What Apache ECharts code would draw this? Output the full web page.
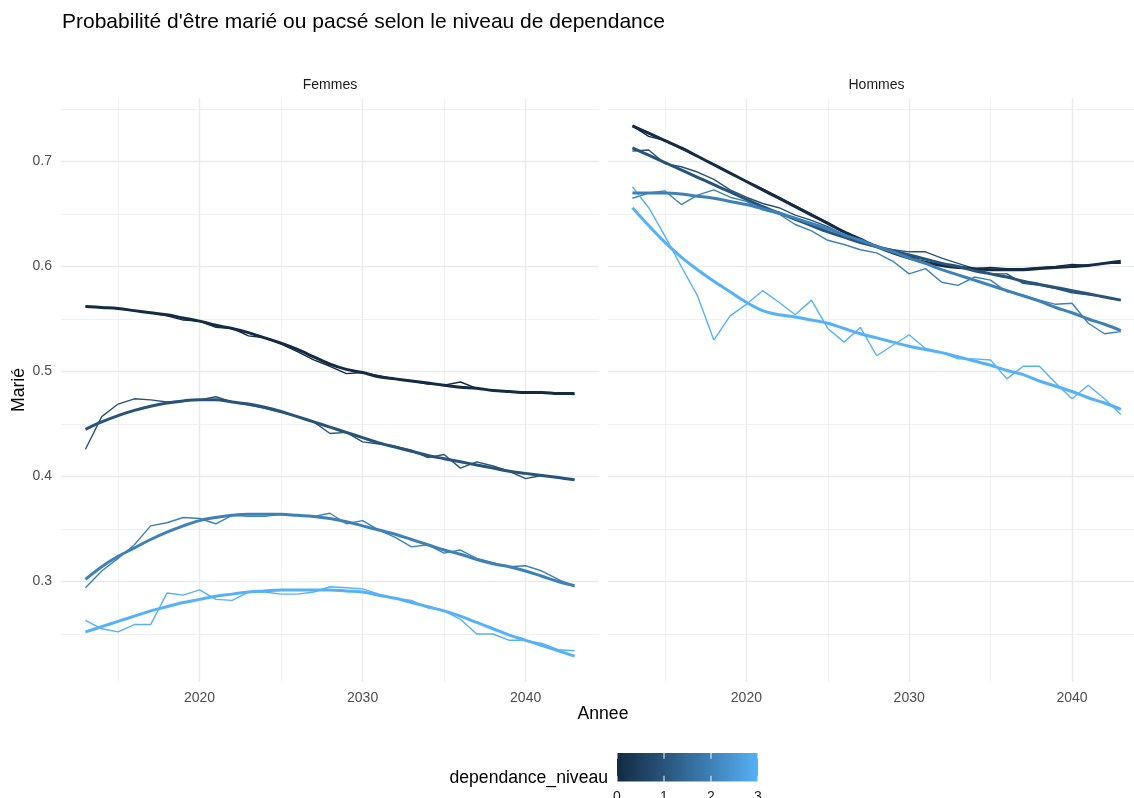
<!DOCTYPE html>
<html><head><meta charset="utf-8">
<script src="https://cdn.jsdelivr.net/npm/echarts@6/dist/echarts.min.js"></script>
<style>html,body{margin:0;padding:0;background:#fff}#c{width:1134px;height:798px}</style>
</head><body><div id="c"></div>
<script>
// ---------------- DATA ----------------
const years = [2013,2014,2015,2016,2017,2018,2019,2020,2021,2022,2023,2024,2025,2026,2027,2028,2029,2030,2031,2032,2033,2034,2035,2036,2037,2038,2039,2040,2041,2042,2043];
const panels = ['Femmes', 'Hommes'];
const levels = [0, 1, 2, 3];

// Femmes - observed
const femmesRaw0 = [0.562,0.561,0.560,0.558,0.556,0.553,0.549,0.548,0.542,0.541,0.534,0.532,0.526,0.519,0.511,0.505,0.498,0.499,0.496,0.493,0.491,0.488,0.487,0.490,0.484,0.482,0.481,0.480,0.480,0.479,0.478];
const femmesRaw1 = [0.426,0.457,0.469,0.474,0.473,0.471,0.472,0.473,0.476,0.471,0.468,0.465,0.461,0.457,0.452,0.441,0.442,0.433,0.431,0.429,0.425,0.418,0.421,0.408,0.414,0.410,0.405,0.398,0.401,0.399,0.397];
const femmesRaw2 = [0.294,0.310,0.322,0.335,0.353,0.356,0.361,0.360,0.355,0.363,0.362,0.362,0.364,0.363,0.362,0.365,0.355,0.358,0.349,0.342,0.333,0.335,0.327,0.330,0.322,0.318,0.314,0.315,0.310,0.302,0.295];
const femmesRaw3 = [0.263,0.255,0.252,0.259,0.259,0.289,0.287,0.292,0.283,0.282,0.290,0.290,0.288,0.288,0.290,0.295,0.294,0.293,0.288,0.284,0.282,0.275,0.272,0.264,0.250,0.250,0.244,0.244,0.241,0.235,0.234];
// Femmes - smoothed
const femmesSmooth0 = [0.562,0.561,0.560,0.558,0.556,0.554,0.551,0.548,0.544,0.541,0.537,0.532,0.527,0.521,0.514,0.507,0.502,0.499,0.495,0.493,0.491,0.489,0.487,0.485,0.484,0.482,0.481,0.480,0.480,0.479,0.479];
const femmesSmooth1 = [0.445,0.452,0.458,0.463,0.467,0.470,0.472,0.473,0.473,0.471,0.469,0.466,0.462,0.457,0.452,0.447,0.442,0.437,0.432,0.428,0.424,0.420,0.417,0.414,0.411,0.408,0.405,0.403,0.401,0.399,0.397];
const femmesSmooth2 = [0.302,0.314,0.324,0.332,0.340,0.347,0.353,0.358,0.361,0.363,0.364,0.364,0.364,0.363,0.362,0.360,0.357,0.353,0.349,0.345,0.340,0.335,0.330,0.326,0.321,0.317,0.314,0.310,0.305,0.300,0.296];
const femmesSmooth3 = [0.252,0.257,0.262,0.267,0.272,0.276,0.280,0.283,0.286,0.288,0.290,0.291,0.292,0.292,0.292,0.292,0.291,0.290,0.287,0.284,0.280,0.276,0.272,0.267,0.261,0.255,0.249,0.244,0.239,0.234,0.229];

// Hommes - observed
const hommesRaw0 = [0.734,0.724,0.720,0.712,0.705,0.697,0.689,0.681,0.674,0.666,0.658,0.650,0.642,0.633,0.624,0.620,0.613,0.609,0.607,0.603,0.600,0.598,0.599,0.598,0.598,0.599,0.600,0.602,0.601,0.603,0.603];
const hommesRaw1 = [0.710,0.711,0.698,0.695,0.690,0.683,0.673,0.666,0.660,0.656,0.649,0.644,0.638,0.630,0.622,0.619,0.616,0.614,0.614,0.608,0.603,0.598,0.593,0.593,0.584,0.582,0.579,0.575,0.573,0.571,0.568];
const hommesRaw2 = [0.665,0.670,0.672,0.659,0.668,0.673,0.666,0.662,0.654,0.650,0.640,0.634,0.625,0.621,0.616,0.613,0.605,0.593,0.598,0.585,0.582,0.590,0.587,0.576,0.573,0.568,0.564,0.565,0.546,0.536,0.538];
const hommesRaw3 = [0.676,0.656,0.629,0.600,0.572,0.530,0.553,0.564,0.577,0.566,0.554,0.568,0.541,0.528,0.542,0.515,0.525,0.535,0.522,0.518,0.512,0.512,0.511,0.493,0.505,0.505,0.489,0.474,0.487,0.474,0.459];
// Hommes - smoothed
const hommesSmooth0 = [0.734,0.727,0.720,0.713,0.705,0.697,0.689,0.681,0.673,0.665,0.657,0.649,0.641,0.633,0.626,0.619,0.613,0.608,0.604,0.601,0.599,0.598,0.597,0.597,0.597,0.598,0.599,0.600,0.601,0.603,0.605];
const hommesSmooth1 = [0.713,0.706,0.699,0.692,0.685,0.678,0.671,0.664,0.657,0.651,0.645,0.639,0.633,0.628,0.623,0.619,0.615,0.611,0.607,0.603,0.600,0.596,0.593,0.590,0.586,0.583,0.580,0.577,0.574,0.571,0.568];
const hommesSmooth2 = [0.670,0.670,0.670,0.669,0.667,0.665,0.662,0.659,0.655,0.651,0.646,0.641,0.636,0.630,0.625,0.619,0.614,0.608,0.603,0.597,0.592,0.587,0.582,0.577,0.572,0.567,0.561,0.556,0.550,0.545,0.539];
const hommesSmooth3 = [0.656,0.639,0.623,0.609,0.597,0.586,0.576,0.566,0.558,0.554,0.552,0.549,0.546,0.541,0.536,0.532,0.528,0.524,0.521,0.518,0.514,0.510,0.506,0.501,0.497,0.491,0.486,0.481,0.475,0.470,0.464];

// ticks
const xMajorTicks = [2020, 2030, 2040];
const xMinorTicks = [2015, 2025, 2035];
const yMajorTicks = [0.3, 0.4, 0.5, 0.6, 0.7];
const yMinorTicks = [0.25, 0.35, 0.45, 0.55, 0.65, 0.75];
const legendTicks = [0, 1, 2, 3];

// ---------------- STYLE ----------------
const FONT = '"Liberation Sans", Arial, Helvetica, sans-serif';
const levelColors = ['#132B43', '#28547A', '#3E81B7', '#56B1F7'];
const rawSets = [[femmesRaw0, femmesRaw1, femmesRaw2, femmesRaw3], [hommesRaw0, hommesRaw1, hommesRaw2, hommesRaw3]];
const smoothSets = [[femmesSmooth0, femmesSmooth1, femmesSmooth2, femmesSmooth3], [hommesSmooth0, hommesSmooth1, hommesSmooth2, hommesSmooth3]];

// The Hommes panel of the original runs past the right edge of the picture:
// its visible part spans 2011.5 .. ~2043.8 over the 526 px left in the page.
const xRanges = [[2011.5, 2044.5], [2011.5, 2043.81]];
const Y_MIN = 0.2043, Y_MAX = 0.7605;
const gridTop = 98, gridH = 584;
const grids = [
  { left: 61, top: gridTop, width: 538, height: gridH },
  { left: 608, top: gridTop, width: 526, height: gridH }
];

function xAxisDef(g, ticks, major) {
  return {
    type: 'value', gridIndex: g, min: xRanges[g][0], max: xRanges[g][1], position: 'bottom',
    axisLine: { show: false },
    axisTick: { show: false, customValues: ticks },
    axisLabel: { show: major, customValues: ticks, formatter: v => String(v), color: '#4D4D4D', fontSize: 14, margin: 9, fontFamily: FONT },
    splitLine: { show: true, customValues: ticks, lineStyle: { color: '#EBEBEB', width: major ? 1.4 : 0.7 } }
  };
}
function yAxisDef(g, ticks, major, labels) {
  return {
    type: 'value', gridIndex: g, min: Y_MIN, max: Y_MAX, position: 'left',
    axisLine: { show: false },
    axisTick: { show: false, customValues: ticks },
    axisLabel: { show: labels, customValues: ticks, formatter: v => v.toFixed(1), color: '#4D4D4D', fontSize: 14, margin: 9, fontFamily: FONT },
    splitLine: { show: true, customValues: ticks, lineStyle: { color: '#EBEBEB', width: major ? 1.4 : 0.7 } }
  };
}

const xAxes = [], yAxes = [];
panels.forEach((p, g) => {
  xAxes.push(xAxisDef(g, xMajorTicks, true));
  xAxes.push(xAxisDef(g, xMinorTicks, false));
  yAxes.push(yAxisDef(g, yMajorTicks, true, g === 0));
  yAxes.push(yAxisDef(g, yMinorTicks, false, false));
});

const series = [];
panels.forEach((p, g) => {
  levels.forEach(l => {
    series.push({
      type: 'line', name: p + ' ' + l, xAxisIndex: g * 2, yAxisIndex: g * 2,
      data: years.map((y, i) => [y, rawSets[g][l][i]]),
      showSymbol: false, symbol: 'none', silent: true, z: 2,
      lineStyle: { color: levelColors[l], width: 1.4 }
    });
  });
  levels.forEach(l => {
    series.push({
      type: 'line', name: p + ' lissé ' + l, xAxisIndex: g * 2, yAxisIndex: g * 2,
      data: years.map((y, i) => [y, smoothSets[g][l][i]]),
      showSymbol: false, symbol: 'none', silent: true, smooth: 0.35, z: 3,
      lineStyle: { color: levelColors[l], width: 3 }
    });
  });
});

// colour bar legend (decoration)
const barX = 617, barY = 753, barW = 141, barH = 28.5;
const legendMax = legendTicks[legendTicks.length - 1];
const stripCenters = [330, 876.5];
const graphic = [];
panels.forEach((p, g) => {
  graphic.push({ type: 'text', x: stripCenters[g], y: 85,
    style: { text: p, align: 'center', verticalAlign: 'middle', fontSize: 14, fill: '#1A1A1A', fontFamily: FONT } });
});
graphic.push({ type: 'text', x: 603, y: 714, style: { text: 'Annee', align: 'center', verticalAlign: 'middle', fontSize: 17.6, fill: '#000', fontFamily: FONT } });
graphic.push({ type: 'text', x: 19, y: 390, rotation: Math.PI / 2, style: { text: 'Marié', align: 'center', verticalAlign: 'middle', fontSize: 17.6, fill: '#000', fontFamily: FONT } });
graphic.push({ type: 'text', x: 608, y: 778, style: { text: 'dependance_niveau', align: 'right', verticalAlign: 'middle', fontSize: 17.6, fill: '#000', fontFamily: FONT } });
graphic.push({ type: 'rect', shape: { x: barX, y: barY, width: barW, height: barH },
  style: { fill: new echarts.graphic.LinearGradient(0, 0, 1, 0, levelColors.map((c, i) => ({ offset: i / (levelColors.length - 1), color: c }))) } });
legendTicks.forEach(t => {
  const x = barX + t / legendMax * barW;
  graphic.push({ type: 'line', shape: { x1: x, y1: barY, x2: x, y2: barY + barH / 5 }, style: { stroke: '#FFFFFF', lineWidth: 1 } });
  graphic.push({ type: 'line', shape: { x1: x, y1: barY + barH * 4 / 5, x2: x, y2: barY + barH }, style: { stroke: '#FFFFFF', lineWidth: 1 } });
  graphic.push({ type: 'text', x: x, y: 797, style: { text: String(t), align: 'center', verticalAlign: 'middle', fontSize: 14, fill: '#1A1A1A', fontFamily: FONT } });
});

const chart = echarts.init(document.getElementById('c'), null, { renderer: 'canvas' });
chart.setOption({
  animation: false,
  backgroundColor: '#FFFFFF',
  title: { text: "Probabilité d'être marié ou pacsé selon le niveau de dependance", left: 62, top: 12, padding: 0,
    textStyle: { fontSize: 21, fontWeight: 'normal', color: '#000', fontFamily: FONT } },
  grid: grids.map(g => Object.assign({ containLabel: false }, g)),
  xAxis: xAxes,
  yAxis: yAxes,
  series: series,
  graphic: graphic
});
</script>
</body></html>
